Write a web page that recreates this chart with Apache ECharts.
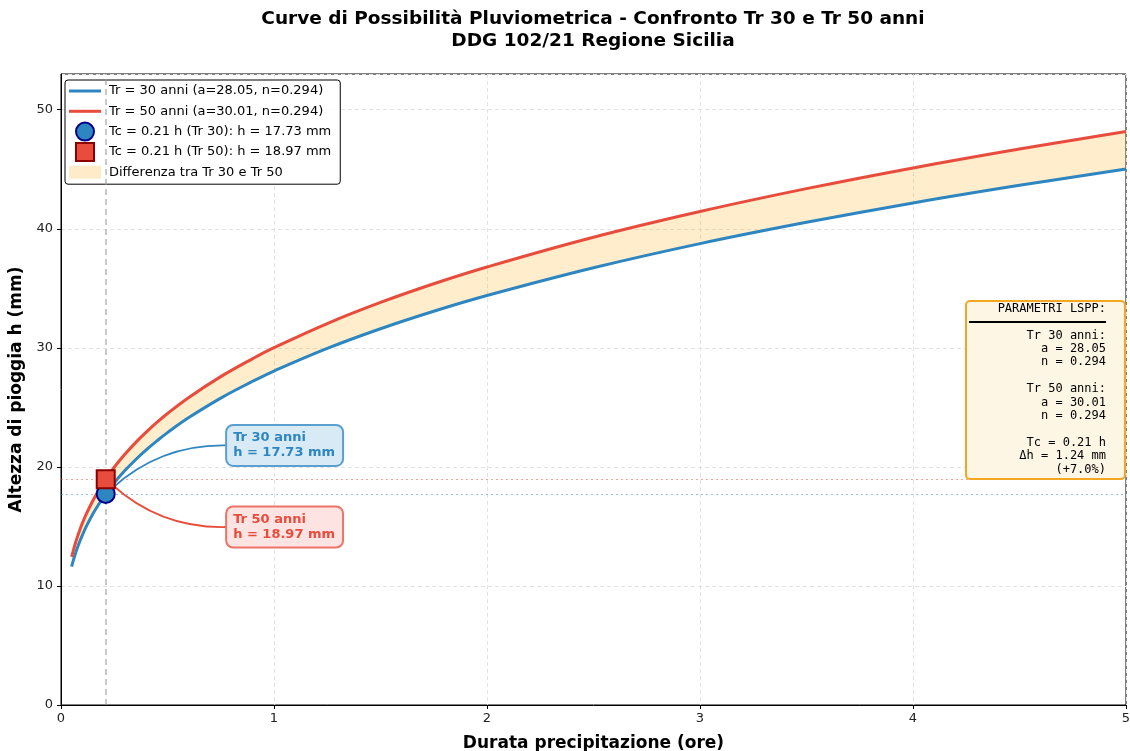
<!DOCTYPE html>
<html>
<head>
<meta charset="utf-8">
<title>Curve di Possibilità Pluviometrica</title>
<script src="https://cdn.jsdelivr.net/npm/echarts@6/dist/echarts.min.js"></script>
<style>
  html, body { margin: 0; padding: 0; background: #fff; }
  #main { width: 1130px; height: 751px; }
</style>
</head>
<body>
<div id="main"></div>
<script>
// durate (ore) e altezze di pioggia
const durate = [0.05, 0.06, 0.07, 0.08, 0.09, 0.1, 0.12, 0.15, 0.175, 0.2, 0.25, 0.3, 0.35, 0.4, 0.45, 0.5, 0.6, 0.75, 0.9, 1, 1.25, 1.5, 1.75, 2, 2.5, 3, 3.5, 4, 4.5, 5];
const hTr30 = [11.63, 12.27, 12.84, 13.35, 13.82, 14.25, 15.04, 16.06, 16.80, 17.47, 18.66, 19.69, 20.60, 21.43, 22.18, 22.88, 24.14, 25.78, 27.19, 28.05, 29.95, 31.60, 33.07, 34.39, 36.72, 38.75, 40.54, 42.17, 43.65, 45.02];
const hTr50 = [12.44, 13.12, 13.73, 14.28, 14.79, 15.25, 16.09, 17.18, 17.98, 18.70, 19.97, 21.06, 22.04, 22.92, 23.73, 24.48, 25.83, 27.58, 29.09, 30.01, 32.04, 33.81, 35.38, 36.79, 39.29, 41.45, 43.37, 45.11, 46.70, 48.17];

// tempo di corrivazione e altezze corrispondenti
const tc = 0.21;
const hc30 = 17.73;
const hc50 = 18.97;

const nomi = [
  "Tr = 30 anni (a=28.05, n=0.294)",
  "Tr = 50 anni (a=30.01, n=0.294)",
  "Tc = 0.21 h (Tr 30): h = 17.73 mm",
  "Tc = 0.21 h (Tr 50): h = 18.97 mm",
  "Differenza tra Tr 30 e Tr 50"
];

const blu = "#2e86c1";
const rosso = "#e74c3c";
const font = "DejaVu Sans";
const iconaLinea = "path://M0,0 L32,0 L32,3 L0,3 Z";
const iconaQuadrato = "path://M0,0 L10,0 L10,10 L0,10 Z";

const chart = echarts.init(document.getElementById("main"));

const paramText = [
  "PARAMETRI LSPP:",
  "",
  "Tr 30 anni:",
  "a = 28.05",
  "n = 0.294",
  "",
  "Tr 50 anni:",
  "a = 30.01",
  "n = 0.294",
  "",
  "Tc = 0.21 h",
  "Δh = 1.24 mm",
  "(+7.0%)"
].join("\n");

const option = {
  animation: false,
  textStyle: { fontFamily: font },
  grid: {
    left: 61,
    right: 4,
    top: 74,
    bottom: 46,
    outerBoundsMode: "none",
    containLabel: false,
    show: true,
    borderColor: "#000",
    borderWidth: 1,
    backgroundColor: "transparent"
  },
  legend: {
    orient: "vertical",
    left: 65,
    top: 80,
    padding: [1, 9, 2, 4],
    itemWidth: 32,
    itemHeight: 18,
    itemGap: 0.3,
    backgroundColor: "rgba(255,255,255,0.85)",
    borderColor: "#000",
    borderWidth: 1,
    borderRadius: 3,
    textStyle: { fontFamily: font, fontSize: 13, color: "#000", lineHeight: 20, height: 20, padding: [0, 0, 0, 3] },
    selectedMode: false,
    data: [
      { name: nomi[0], icon: iconaLinea },
      { name: nomi[1], icon: iconaLinea },
      { name: nomi[2] },
      { name: nomi[3], icon: iconaQuadrato },
      { name: nomi[4], icon: "path://M0,0 L32,0 L32,13 L0,13 Z", itemStyle: { color: "rgba(255,165,0,0.22)", borderWidth: 0 } }
    ]
  },
  xAxis: {
    type: "value",
    min: 0,
    max: 5,
    interval: 1,
    name: "Durata precipitazione (ore)",
    nameLocation: "middle",
    nameGap: 30,
    nameTextStyle: { fontFamily: font, fontSize: 17, fontWeight: "bold", color: "#000" },
    axisLine: { show: true, onZero: false, lineStyle: { color: "#000", width: 1 } },
    axisTick: { show: true, length: 4, lineStyle: { color: "#000" } },
    axisLabel: { fontFamily: font, fontSize: 13, color: "#222", margin: 7 },
    splitLine: { show: true, lineStyle: { color: "#e3e3e3", type: [4, 3], width: 1 } }
  },
  yAxis: {
    type: "value",
    min: 0,
    max: 53,
    interval: 10,
    name: "Altezza di pioggia h (mm)",
    nameLocation: "middle",
    nameGap: 36,
    nameTextStyle: { fontFamily: font, fontSize: 17, fontWeight: "bold", color: "#000" },
    axisLine: { show: true, onZero: false, lineStyle: { color: "#000", width: 1 } },
    axisTick: { show: true, length: 4, lineStyle: { color: "#000" } },
    axisLabel: { fontFamily: font, fontSize: 13, color: "#222", margin: 8, showMaxLabel: false },
    splitLine: { show: true, lineStyle: { color: "#e3e3e3", type: [4, 3], width: 1 } }
  },
  series: [
    {
      // banda tra le due curve
      name: nomi[4],
      type: "custom",
      silent: true,
      z: 1,
      data: durate.map((t, i) => [t, hTr30[i], hTr50[i]]),
      encode: { x: 0, y: [1, 2] },
      renderItem: function (params, api) {
        if (params.dataIndex !== 0) return null;
        const sopra = durate.map((t, i) => api.coord([t, hTr50[i]]));
        const sotto = durate.map((t, i) => api.coord([t, hTr30[i]])).reverse();
        return {
          type: "polygon",
          shape: { points: sopra.concat(sotto) },
          style: { fill: "rgba(255,165,0,0.2)" }
        };
      },
      markLine: {
        silent: true,
        symbol: "none",
        label: { show: false },
        data: [
          { xAxis: tc, lineStyle: { color: "#999", type: [6, 4], width: 1.5, opacity: 0.7 } },
          { yAxis: hc30, lineStyle: { color: blu, type: [2, 3], width: 1.2, opacity: 0.5 } },
          { yAxis: hc50, lineStyle: { color: rosso, type: [2, 3], width: 1.2, opacity: 0.5 } }
        ]
      }
    },
    {
      name: nomi[0],
      type: "line",
      data: durate.map((t, i) => [t, hTr30[i]]),
      smooth: 0.4,
      symbol: "none",
      color: blu,
      lineStyle: { color: blu, width: 3 },
      z: 3
    },
    {
      name: nomi[1],
      type: "line",
      data: durate.map((t, i) => [t, hTr50[i]]),
      smooth: 0.4,
      symbol: "none",
      color: rosso,
      lineStyle: { color: rosso, width: 3 },
      z: 3
    },
    {
      name: "frecce",
      type: "lines",
      coordinateSystem: "cartesian2d",
      silent: true,
      z: 4,
      data: [
        { coords: [[0.78, 21.8], [0.24, 18.2]], lineStyle: { color: blu, width: 1.8, opacity: 1, curveness: -0.2 } },
        { coords: [[0.78, 14.95], [0.24, 18.5]], lineStyle: { color: rosso, width: 1.8, opacity: 1, curveness: 0.2 } }
      ]
    },
    {
      name: nomi[2],
      type: "scatter",
      data: [[tc, hc30]],
      symbol: "circle",
      symbolSize: 18,
      itemStyle: { color: blu, borderColor: "#00008b", borderWidth: 2, opacity: 1 },
      z: 5
    },
    {
      name: nomi[3],
      type: "scatter",
      data: [[tc, hc50]],
      symbol: "rect",
      symbolSize: 18,
      itemStyle: { color: rosso, borderColor: "#8b0000", borderWidth: 2, opacity: 1 },
      z: 6
    },
    {
      name: "etichette",
      type: "scatter",
      symbolSize: 0,
      silent: true,
      z: 7,
      itemStyle: { opacity: 1 },
      data: [
        {
          value: [0.78, 21.8],
          label: {
            show: true,
            position: "right",
            distance: 0,
            formatter: "Tr 30 anni\nh = 17.73 mm",
            fontFamily: font,
            fontSize: 13,
            fontWeight: "bold",
            color: blu,
            lineHeight: 15,
            backgroundColor: "#d9eaf7",
            borderColor: "#5a9fd0",
            borderWidth: 2,
            borderRadius: 6,
            padding: [5, 7, 4, 6]
          }
        },
        {
          value: [0.78, 14.95],
          label: {
            show: true,
            position: "right",
            distance: 0,
            formatter: "Tr 50 anni\nh = 18.97 mm",
            fontFamily: font,
            fontSize: 13,
            fontWeight: "bold",
            color: rosso,
            lineHeight: 15,
            backgroundColor: "#fde3e1",
            borderColor: "#ec7468",
            borderWidth: 2,
            borderRadius: 6,
            padding: [5, 7, 4, 6]
          }
        }
      ]
    }
  ],
  graphic: [
    {
      type: "text",
      x: 593,
      y: 19,
      style: {
        text: "Curve di Possibilità Pluviometrica - Confronto Tr 30 e Tr 50 anni",
        fontFamily: font, fontSize: 18.5, fontWeight: "bold", fill: "#000",
        align: "center", verticalAlign: "middle"
      }
    },
    {
      type: "text",
      x: 593,
      y: 41,
      style: {
        text: "DDG 102/21 Regione Sicilia",
        fontFamily: font, fontSize: 18.5, fontWeight: "bold", fill: "#000",
        align: "center", verticalAlign: "middle"
      }
    },
    {
      type: "rect",
      left: 965,
      top: 300,
      shape: { width: 159, height: 178, r: 4 },
      style: { fill: "rgba(253,246,227,0.95)", stroke: "#f5a623", lineWidth: 2 },
      z: 10
    },
    {
      type: "line",
      shape: { x1: 969, y1: 322, x2: 1106, y2: 322 },
      style: { stroke: "#000", lineWidth: 2 },
      z: 11
    },
    {
      type: "text",
      x: 1106,
      y: 302,
      style: {
        text: paramText,
        fontFamily: "DejaVu Sans Mono",
        fontSize: 12,
        lineHeight: 13.4,
        fill: "#000",
        align: "right",
        verticalAlign: "top"
      },
      z: 11
    }
  ]
};

chart.setOption(option);
</script>
</body>
</html>
